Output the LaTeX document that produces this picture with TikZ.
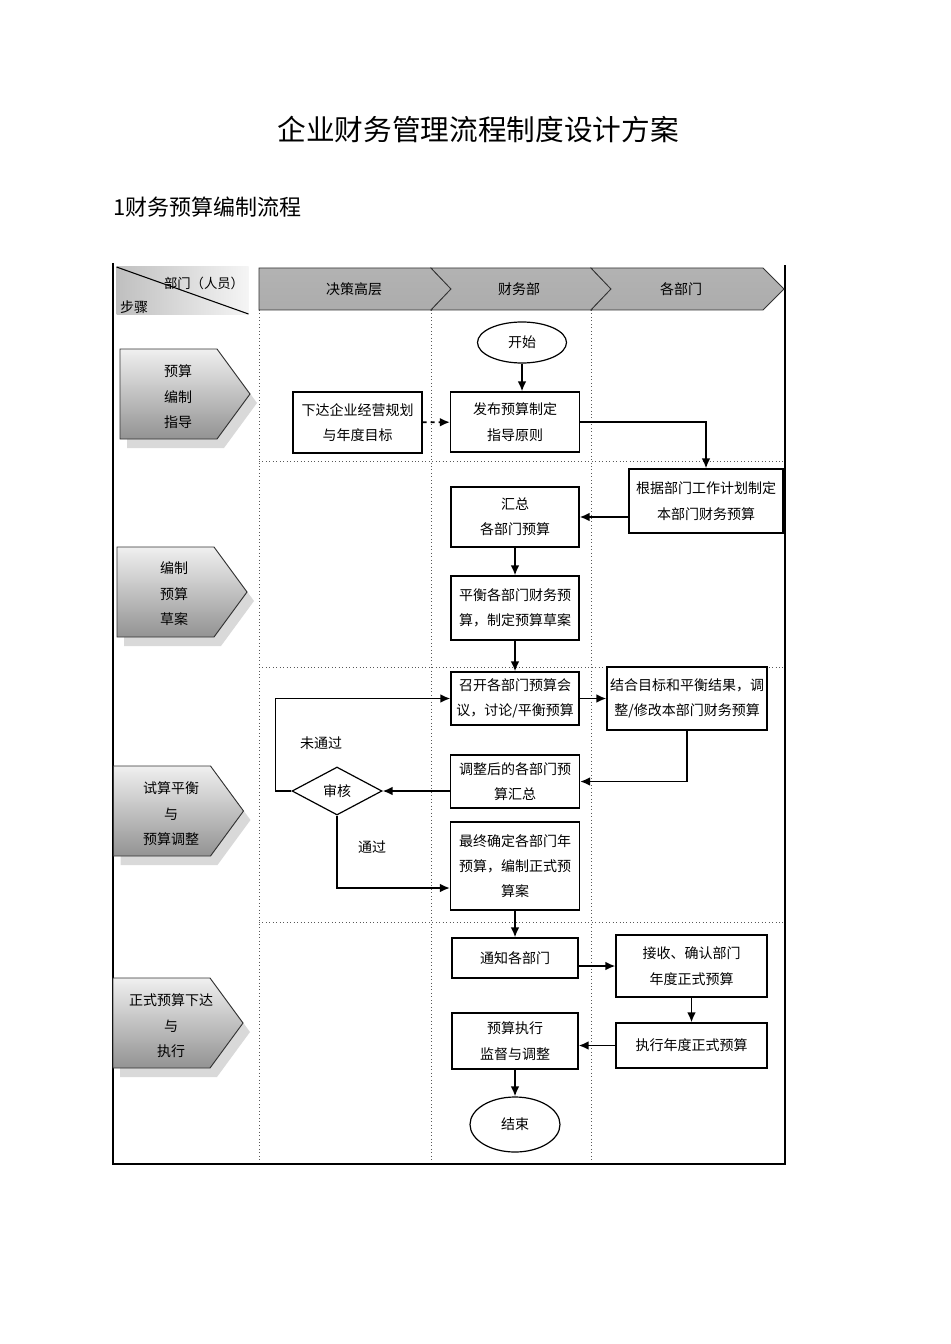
\documentclass[tikz,border=0pt]{standalone}
\usepackage{fontspec}
\setmainfont{Noto Sans CJK SC}
\usepackage{tikz}
\usetikzlibrary{shapes.geometric}
\usetikzlibrary{arrows.meta}

\tikzset{
  box/.style 2 args={draw,line width=0.9pt,fill=white,align=center,inner sep=0pt,
    minimum width=#1*0.75pt,minimum height=#2*0.75pt,font=\fontsize{10.5}{19}\selectfont},
  terminal/.style 2 args={box={#1}{#2},ellipse},
  decision/.style 2 args={box={#1}{#2},diamond,aspect=1.9},
  flow/.style={line width=1.3pt,-{Latex[length=7.5pt,width=6.5pt]}},
  lane/.style={dotted,gray!70!black,line width=0.6pt},
  headshade/.style={draw=black!80,line width=0.6pt,top color=gray!60,middle color=gray!5,bottom color=gray!65},
  stageshade/.style={draw=black!80,line width=0.7pt,top color=gray!12,bottom color=gray!85},
  stagetext/.style={align=center,font=\fontsize{10.5}{19.2}\selectfont},
  plain/.style={font=\fontsize{10.5}{19}\selectfont},
  stagearrow/.pic={
    \fill[gray!30] (7,9) -- ++(97,0) -- ++(33,45) -- ++(-33,45) -- ++(-97,0) -- cycle;
    \draw[stageshade] (0,0) -- ++(97,0) -- ++(33,45) -- ++(-33,45) -- ++(-97,0) -- cycle;
  }
}

\begin{document}
\begin{tikzpicture}[x=0.75pt,y=-0.75pt]
\useasboundingbox (0,0) rectangle (950,1344);

% titles
\node[font=\fontsize{21.5}{24}\selectfont] (title) at (478,130) {企业财务管理流程制度设计方案};
\node[anchor=west,inner sep=0pt,font=\fontsize{16.5}{20}\selectfont] (subtitle) at (113,207) {1财务预算编制流程};

% swimlanes
\draw[lane] (259,310) -- (259,1164);
\draw[lane] (431,310) -- (431,1164);
\draw[lane] (591,310) -- (591,1164);
\draw[lane] (259,461) -- (784,461);
\draw[lane] (259,667) -- (784,667);
\draw[lane] (259,922) -- (784,922);
\draw[line width=1.2pt] (113,263) -- (113,1164) -- (785,1164) -- (785,265);

% header
\shade[left color=gray!50,right color=gray!8] (116.5,267) rectangle (248.5,315);
\draw[line width=0.8pt] (116.5,267) -- (248.5,314);
\node[font=\fontsize{10}{12}\selectfont] (bumen) at (204,283) {部门（人员）};
\node[font=\fontsize{10.5}{12}\selectfont] (buzhou) at (134,307) {步骤};
\draw[headshade] (259,268) -- (431,268) -- (451,289) -- (431,310) -- (259,310) -- cycle;
\draw[headshade] (431,268) -- (591,268) -- (611,289) -- (591,310) -- (431,310) -- (451,289) -- cycle;
\draw[headshade] (591,268) -- (763,268) -- (784,289) -- (763,310) -- (591,310) -- (611,289) -- cycle;
\node[plain] (juece) at (354,289) {决策高层};
\node[plain] (caiwu) at (519,289) {财务部};
\node[plain] (gebumen) at (681,289) {各部门};

% stages
\pic at (120,349) {stagearrow};
\pic at (117,547) {stagearrow};
\pic at (113.5,766) {stagearrow};
\pic at (113,978) {stagearrow};
\node[stagetext] (zhidao) at (178,397) {预算\\编制\\指导};
\node[stagetext] (caoan) at (174,594) {编制\\预算\\草案};
\node[stagetext] (tiaozhengjd) at (171,814) {试算平衡\\与\\预算调整};
\node[stagetext] (zhixingjd) at (171,1026) {正式预算下达\\与\\执行};

% flow nodes
\node[terminal={89}{41}] (kaishi) at (522,342.5) {开始};
\node[box={129}{61}] (xiada) at (357.5,422.5) {下达企业经营规划\\与年度目标};
\node[box={129}{60}] (fabu) at (515,422) {发布预算制定\\指导原则};
\node[box={154}{64}] (genju) at (706,501) {根据部门工作计划制定\\本部门财务预算};
\node[box={128}{60}] (huizong) at (515,517) {汇总\\各部门预算};
\node[box={128}{64}] (pingheng) at (515,608) {平衡各部门财务预\\算，制定预算草案};
\node[box={128}{53}] (zhaokai) at (515,698.5) {召开各部门预算会\\议，讨论/平衡预算};
\node[box={160}{63}] (jiehe) at (687,698.5) {结合目标和平衡结果，调\\整/修改本部门财务预算};
\node[box={129}{53}] (tiaozheng) at (515,781.5) {调整后的各部门预\\算汇总};
\node[decision={90}{48}] (shenhe) at (337,791) {审核};
\node[box={129}{88}] (zuizhong) at (515,866) {最终确定各部门年\\预算，编制正式预\\算案};
\node[box={126}{40}] (tongzhi) at (515,958) {通知各部门};
\node[box={151}{62}] (jieshou) at (691.5,966) {接收、确认部门\\年度正式预算};
\node[box={151}{45}] (zhixing) at (691.5,1045.5) {执行年度正式预算};
\node[box={126}{56}] (jiandu) at (515,1041) {预算执行\\监督与调整};
\node[terminal={90}{55}] (jieshu) at (515,1124.5) {结束};
\node[plain] (weitongguo) at (321,743) {未通过};
\node[plain] (tongguo) at (372,847) {通过};

% connectors
\draw[flow] (kaishi) -- (kaishi |- fabu.north);
\draw[flow,dashed] (xiada) -- (fabu);
\draw[flow] (fabu) -| (genju);
\draw[flow] (genju.west |- huizong) -- (huizong);
\draw[flow] (huizong) -- (pingheng);
\draw[flow] (pingheng) -- (zhaokai);
\draw[flow] (zhaokai) -- (jiehe);
\draw[flow] (jiehe) |- (tiaozheng);
\draw[flow] (tiaozheng.west |- shenhe) -- (shenhe);
\draw[flow] (shenhe.west) -- ++(-16,0) |- (zhaokai);
\draw[flow] (shenhe.south) |- ([yshift=-16.5pt]zuizhong.west);
\draw[flow] (zuizhong) -- (tongzhi);
\draw[flow] (tongzhi.east |- jieshou) -- (jieshou);
\draw[flow] (jieshou) -- (zhixing);
\draw[flow] (zhixing.west) -- (zhixing.west -| jiandu.east);
\draw[flow] (jiandu) -- (jieshu);
\end{tikzpicture}
\end{document}
